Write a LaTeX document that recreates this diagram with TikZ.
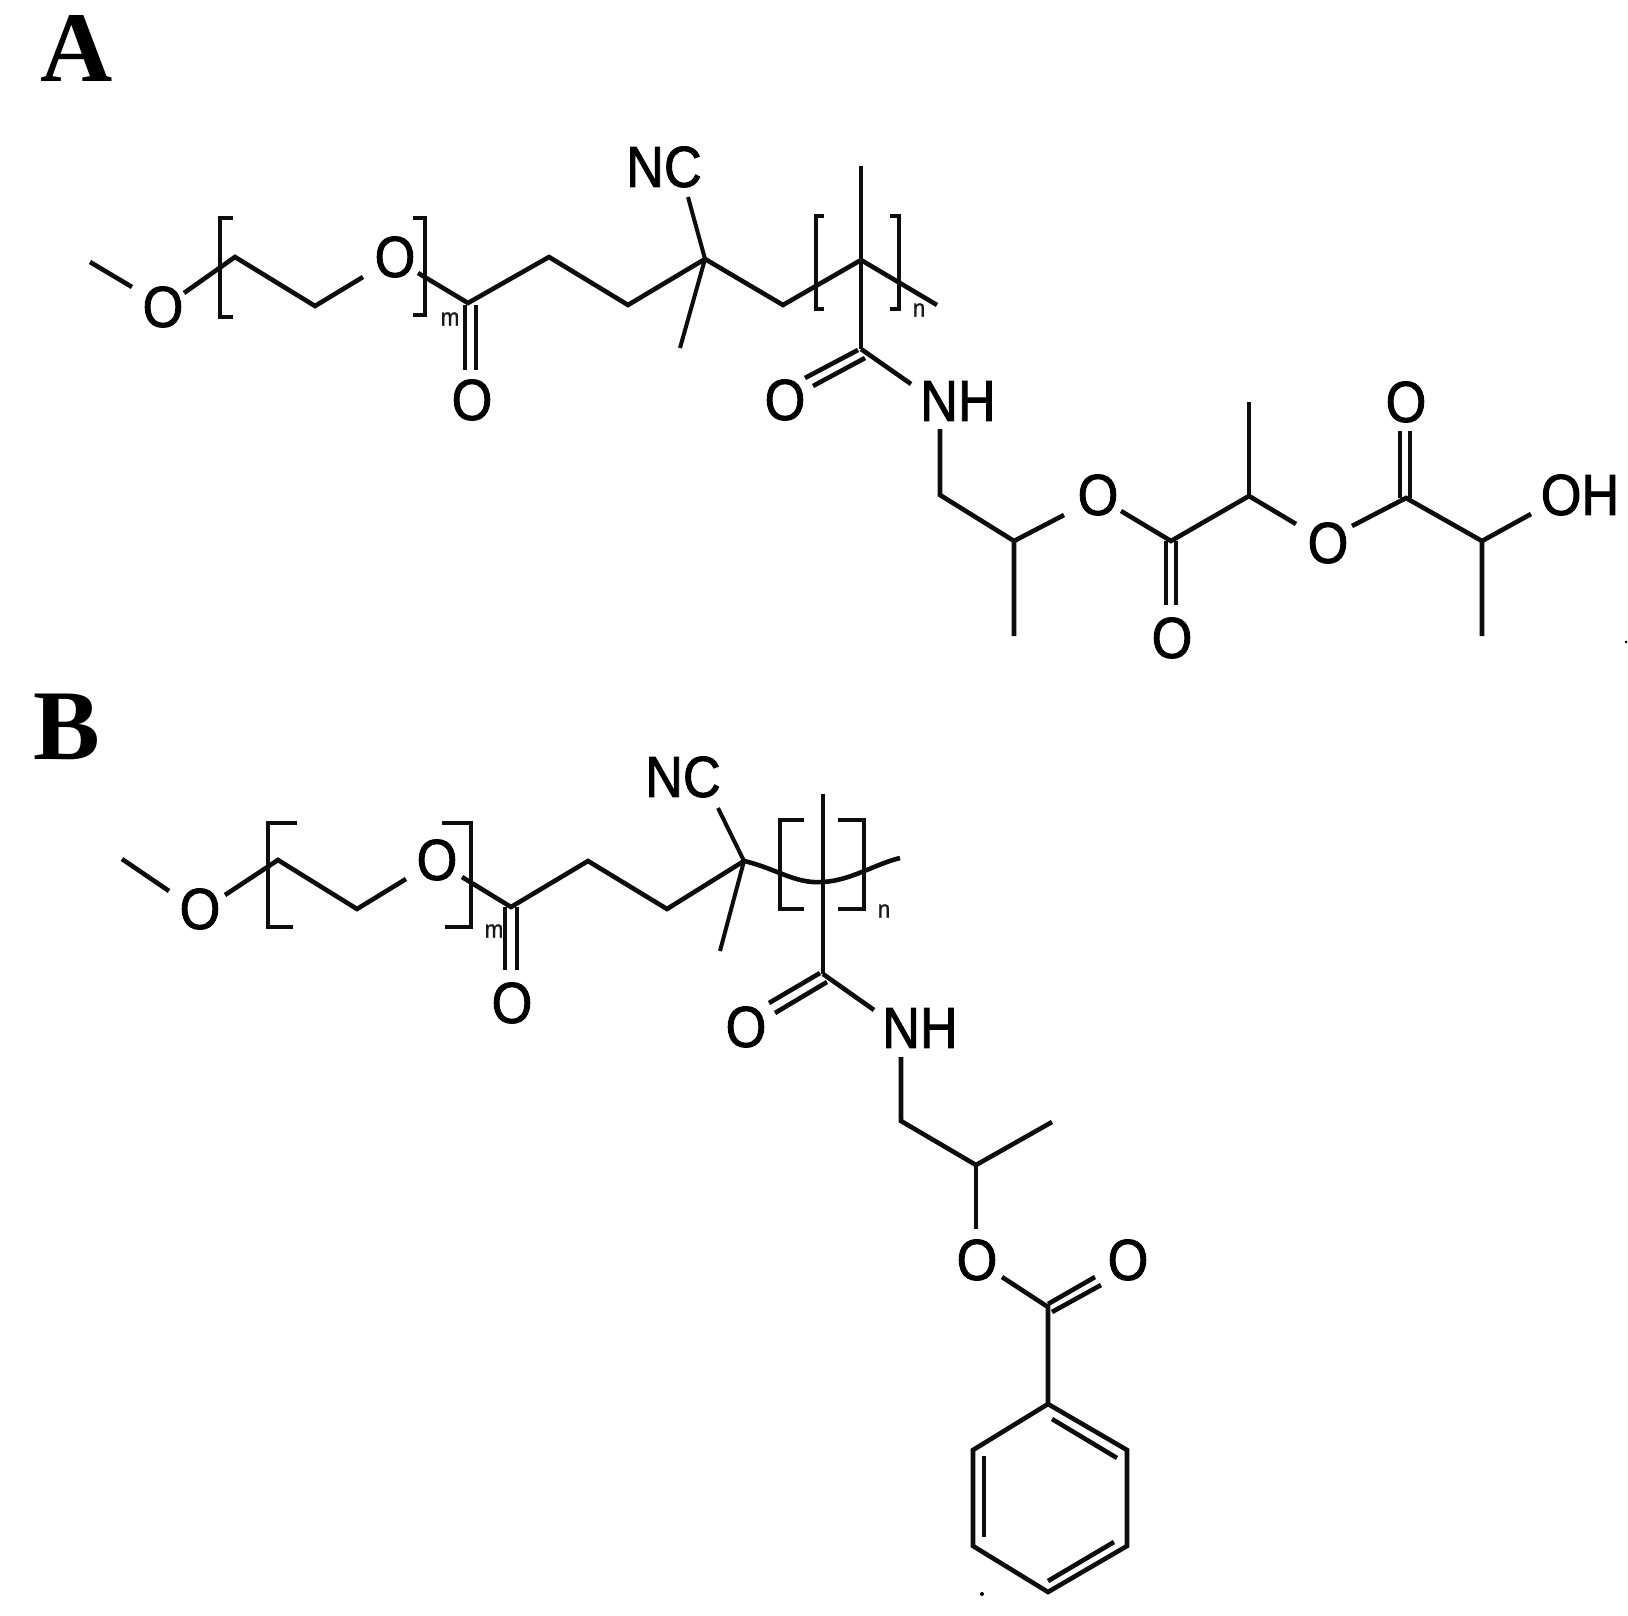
\documentclass[tikz,border=0pt]{standalone}
\usepackage{fontspec}
\newfontfamily\chemfont[FakeStretch=0.9,FakeBold=1.6]{Liberation Sans}
\newfontfamily\idxfont[FakeStretch=0.9,FakeBold=0.8]{Liberation Sans}
\newfontfamily\panelfont{Liberation Serif}[BoldFont={Liberation Serif Bold}]
\tikzset{
  bond/.style={draw=black!95,line width=4.6pt,line cap=butt,line join=miter},
  thin bond/.style={draw=black!95,line width=4pt,line cap=butt,line join=miter},
  brk/.style={draw=black!95,line width=4pt,line join=miter},
  atom/.style={inner sep=0pt,font=\chemfont\fontsize{58}{70}\selectfont,text=black},
  idx/.style={inner sep=0pt,font=\idxfont\fontsize{25}{28}\selectfont,text=black!90},
  panel/.style={inner sep=0pt,font=\panelfont\bfseries\fontsize{100}{110}\selectfont},
  speck/.style={circle,fill=black,inner sep=0pt,minimum size=4pt}
}
\begin{document}
\begin{tikzpicture}[x=1pt,y=-1pt]
\useasboundingbox (0,0) rectangle (1628,1616);
% ---------- A ----------
\node[panel] (lA) at (77,48) {A};
\node[atom] (aO1) at (163,307) {O};
\node[atom] (aO2) at (395,257) {O};
\node[atom] (aO3) at (472,400) {O};
\node[atom] (aNC) at (664,167) {NC};
\node[atom] (aO4) at (785,400) {O};
\node[atom] (aNH) at (958,401) {NH};
\node[atom] (aO5) at (1098,495) {O};
\node[atom] (aO6) at (1172,638) {O};
\node[atom] (aO7) at (1328,543) {O};
\node[atom] (aO8) at (1406,402) {O};
\node[atom] (aOH) at (1580,495) {OH};
\node[idx] (am) at (450,319) {m};
\node[idx] (an) at (919,310) {n};
\node[speck,minimum size=3pt] (adot) at (1626,642) {};
\foreach \n/\x/\y in {
 a1/90/262,a2/132/287,a3/184/293,a4/235/257,a5/315/306,a6/363/277,
 a7/418/273,a8/468/303,a9/549/257,a10/628/305,a11/705/259,a12/783/305,
 a13/861/260,a14/937/305,a15/688/197,a16/680/348,
 a17/861/166,a18/861/349,a19/858/350,a20/805/378,a21/865/358,a22/813/386,
 a23/911/384,a24/940/429,a25/940/495,a26/1014/541,a27/1014/636,a28/1064/515,
 a29/1121/511,a30/1171/541,a31/1249/496,a32/1249/402,a33/1296/524,
 a34/1352/526,a35/1406/498,a36/1482/541,a37/1482/636,a38/1531/514,
 a40/465/305,a41/465/370,a42/476/305,a43/476/370,
 a44/1166/541,a45/1166/605,a46/1176/541,a47/1176/605,
 a48/1400/431,a49/1400/498,a50/1410/431,a51/1410/498,
 ab1/233/218,ab2/220/218,ab3/220/317,ab4/233/317,
 ab5/413/218,ab6/425/218,ab7/425/315,ab8/413/315,
 ab9/824/216,ab10/816/216,ab11/816/309,ab12/824/309,
 ab13/890/216,ab14/899/216,ab15/899/309,ab16/890/309}{
  \coordinate (\n) at (\x,\y);
}
\draw[bond] (a1) -- (a2);
\draw[bond] (a3) -- (a4) -- (a5) -- (a6);
\draw[bond] (a7) -- (a8) -- (a9) -- (a10) -- (a11) -- (a12) -- (a13) -- (a14);
\draw[thin bond] (a15) -- (a11) -- (a16);
\draw[thin bond] (a17) -- (a18);
\draw[bond] (a19) -- (a20);
\draw[bond] (a21) -- (a22);
\draw[bond] (a18) -- (a23);
\draw[bond] (a24) -- (a25) -- (a26) -- (a27);
\draw[bond] (a26) -- (a28);
\draw[bond] (a29) -- (a30) -- (a31) -- (a33);
\draw[bond] (a31) -- (a32);
\draw[bond] (a34) -- (a35) -- (a36) -- (a37);
\draw[bond] (a36) -- (a38);
\draw[thin bond] (a40) -- (a41);
\draw[thin bond] (a42) -- (a43);
\draw[thin bond] (a44) -- (a45);
\draw[thin bond] (a46) -- (a47);
\draw[thin bond] (a48) -- (a49);
\draw[thin bond] (a50) -- (a51);
\draw[brk] (ab1) -- (ab2) -- (ab3) -- (ab4);
\draw[brk] (ab5) -- (ab6) -- (ab7) -- (ab8);
\draw[brk] (ab9) -- (ab10) -- (ab11) -- (ab12);
\draw[brk] (ab13) -- (ab14) -- (ab15) -- (ab16);
% ---------- B ----------
\node[panel] (lB) at (67,727) {B};
\node[atom] (bO1) at (200,909) {O};
\node[atom] (bO2) at (437,860) {O};
\node[atom] (bO3) at (512,1003) {O};
\node[atom] (bNC) at (683,777) {NC};
\node[atom] (bO4) at (746,1027) {O};
\node[atom] (bNH) at (920,1028) {NH};
\node[atom] (bO5) at (977,1260) {O};
\node[atom] (bO6) at (1128,1260) {O};
\node[idx] (bm) at (494,931) {m};
\node[idx] (bn) at (884,911) {n};
\node[speck] (bdot) at (982,1594) {};
\foreach \n/\x/\y in {
 b1/122/859,b2/169/891,b3/225/895,b4/278/860,b5/357/909,b6/406/879,
 b7/462/877,b8/511/907,b9/588/861,b10/667/909,b11/744/861,
 b12/822/882,b13/900/858,b14/718/808,b15/720/951,
 bq1/775/868,bq2/795/884,bq3/850/881,bq4/875/864,
 b16/823/794,b17/823/974,b18/820/973,b19/769/1003,b20/827/982,b21/775/1013,
 b22/874/1010,b23/901/1057,b24/901/1121,b25/976/1165,b26/1052/1122,b27/976/1229,
 b28/1002/1277,b29/1048/1307,b30/1048/1304,b31/1095/1277,b32/1052/1312,b33/1101/1285,
 r1/1048/1404,r2/1127/1450,r3/1127/1546,r4/1048/1592,r5/973/1546,r6/973/1450,
 i1/1052/1419,i2/1117/1458,i3/984/1456,i4/984/1537,i5/1048/1581,i6/1114/1542,
 b40/505/907,b41/505/970,b42/517/907,b43/517/970,
 bb1/297/823,bb2/268/823,bb3/268/927,bb4/293/927,
 bb5/442/823,bb6/471/823,bb7/471/927,bb8/445/927,
 bb9/804/820,bb10/780/820,bb11/780/909,bb12/804/909,
 bb13/838/820,bb14/864/820,bb15/864/909,bb16/838/909}{
  \coordinate (\n) at (\x,\y);
}
\draw[bond] (b1) -- (b2);
\draw[bond] (b3) -- (b4) -- (b5) -- (b6);
\draw[bond] (b7) -- (b8) -- (b9) -- (b10) -- (b11);
\draw[bond] (b11) .. controls (bq1) and (bq2) .. (b12) .. controls (bq3) and (bq4) .. (b13);
\draw[thin bond] (b14) -- (b11) -- (b15);
\draw[thin bond] (b16) -- (b17);
\draw[bond] (b18) -- (b19);
\draw[bond] (b20) -- (b21);
\draw[bond] (b17) -- (b22);
\draw[bond] (b23) -- (b24) -- (b25) -- (b26);
\draw[bond] (b25) -- (b27);
\draw[bond] (b28) -- (b29) -- (r1);
\draw[bond] (b30) -- (b31);
\draw[bond] (b32) -- (b33);
\draw[bond] (r1) -- (r2) -- (r3) -- (r4) -- (r5) -- (r6) -- cycle;
\draw[bond] (i1) -- (i2);
\draw[bond] (i3) -- (i4);
\draw[bond] (i5) -- (i6);
\draw[thin bond] (b40) -- (b41);
\draw[thin bond] (b42) -- (b43);
\draw[brk] (bb1) -- (bb2) -- (bb3) -- (bb4);
\draw[brk] (bb5) -- (bb6) -- (bb7) -- (bb8);
\draw[brk] (bb9) -- (bb10) -- (bb11) -- (bb12);
\draw[brk] (bb13) -- (bb14) -- (bb15) -- (bb16);
\end{tikzpicture}
\end{document}
